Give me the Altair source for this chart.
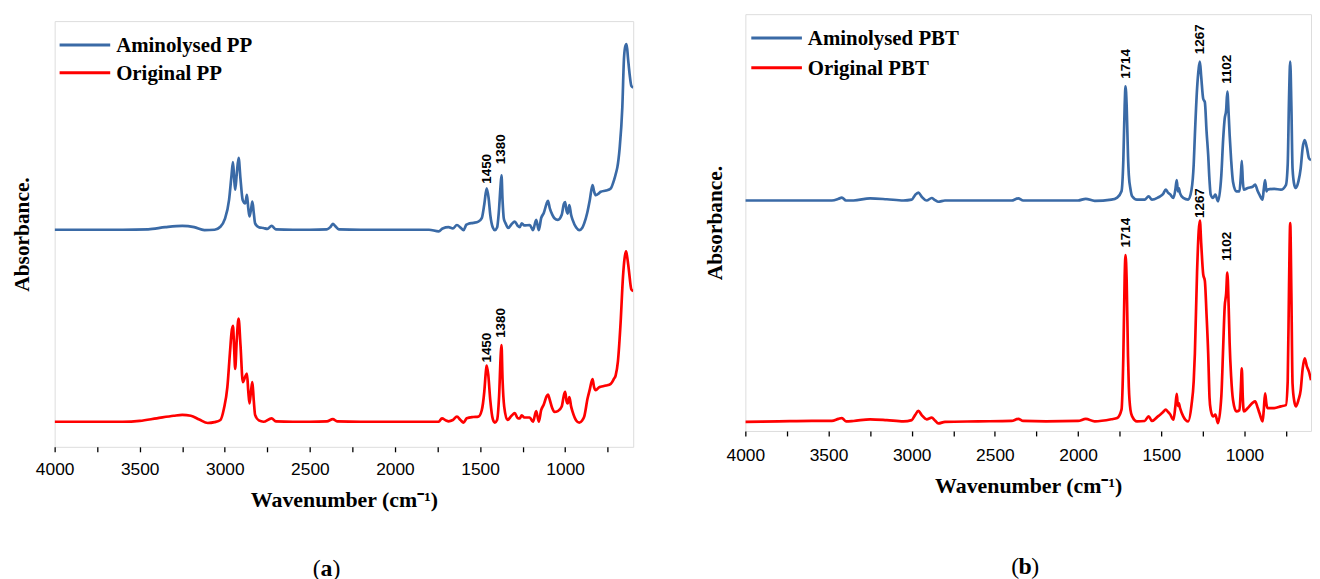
import altair as alt
import pandas as pd

# ---------------- (a) PP spectra ----------------
pp_amin_wn = [4000, 3800, 3600, 3450, 3350, 3250, 3180, 3120, 3060, 3026, 3000, 2975, 2960, 2952, 2945, 2939, 2930, 2919, 2908, 2895,
              2880, 2870, 2862, 2855, 2845, 2838, 2830, 2822, 2800, 2773, 2750, 2725, 2700, 2600, 2500, 2400, 2380, 2365, 2350, 2330,
              2200, 2000, 1800, 1743, 1720, 1685, 1660, 1636, 1615, 1597, 1580, 1568, 1540, 1510, 1490, 1475, 1461, 1450, 1440, 1425,
              1413, 1400, 1390, 1380, 1374, 1368, 1360, 1350, 1335, 1315, 1296, 1280, 1267, 1255, 1240, 1208, 1189, 1170, 1155, 1141,
              1125, 1110, 1101, 1090, 1075, 1063, 1043, 1020, 1008, 1000, 992, 985, 975, 965, 956, 935, 917, 900, 888, 870,
              855, 839, 830, 820, 800, 791, 760, 732, 713, 700, 693, 680, 664, 654, 645, 639, 630, 621, 611, 600]
pp_amin = [51.0, 51.0, 51.0, 51.1, 51.6, 51.9, 51.6, 50.9, 51.0, 51.7, 53.5, 58, 64, 66.9, 63, 60.4, 64, 67.9, 63, 58,
           57.2, 59.2, 56, 54.1, 56, 57.6, 55, 52.5, 51.6, 51.4, 51.2, 51.9, 51.1, 51.0, 51.0, 51.1, 51.6, 52.4, 51.8, 51.1,
           51.0, 51.0, 51.0, 50.6, 51.3, 51.6, 51.3, 52.1, 51.5, 50.9, 52.2, 52.4, 52.6, 52.9, 53.7, 57, 60.7, 58.5, 54.5, 51.5,
           50.9, 51.5, 55, 61, 63.8, 58, 53.5, 52.5, 51.4, 52.3, 52.9, 52.0, 51.6, 52.5, 52.0, 52.1, 50.9, 53.3, 50.9, 53.7,
           55, 57, 57.8, 56, 54.5, 53.7, 53.3, 54.5, 57, 57.5, 55.5, 54.8, 56.8, 54.5, 53.3, 51.5, 50.9, 51.4, 52.5, 55,
           58, 61.5, 60, 59.1, 59.6, 59.9, 60.2, 60.7, 62.6, 64.5, 65.7, 70, 79.7, 91.4, 94.3, 94.6, 91, 87.5, 84.8, 84.4]

pp_orig_wn = [4000, 3800, 3600, 3500, 3400, 3300, 3250, 3200, 3150, 3100, 3060, 3026, 3005, 2985, 2970, 2960, 2952, 2945, 2939, 2930,
              2919, 2908, 2894, 2880, 2870, 2862, 2855, 2845, 2838, 2830, 2822, 2800, 2773, 2725, 2700, 2600, 2500, 2400, 2365, 2340,
              2200, 2000, 1800, 1743, 1724, 1700, 1685, 1660, 1636, 1615, 1597, 1578, 1540, 1510, 1490, 1475, 1465, 1461, 1452, 1440,
              1425, 1413, 1400, 1388, 1378, 1374, 1368, 1358, 1339, 1315, 1296, 1280, 1267, 1255, 1240, 1208, 1189, 1170, 1155, 1141,
              1125, 1110, 1101, 1090, 1075, 1063, 1043, 1020, 1008, 1000, 992, 985, 975, 965, 956, 935, 917, 900, 888, 868,
              855, 839, 830, 820, 800, 791, 760, 732, 713, 703, 690, 674, 660, 650, 642, 635, 626, 611, 600]
pp_orig = [5.9, 5.9, 5.9, 6.1, 6.7, 7.3, 7.5, 7.3, 6.4, 5.6, 5.8, 6.3, 9.0, 14, 22, 27, 28.4, 23, 18.3, 25,
           30.1, 24, 15.2, 16.5, 17.2, 13, 10.2, 13.5, 15.2, 11, 7.5, 6.2, 5.9, 6.7, 6.0, 5.9, 5.9, 6.0, 6.5, 6.0,
           5.9, 5.9, 5.9, 5.9, 6.7, 6.2, 6.0, 6.3, 7.1, 6.3, 5.7, 6.7, 7.0, 7.1, 8.6, 13, 18, 19.1, 17, 11,
           6.5, 5.7, 6.3, 12, 22, 23.9, 16, 9.4, 6.3, 7.3, 7.9, 6.8, 6.7, 7.4, 6.9, 6.9, 5.9, 8.4, 5.9, 8.6,
           10, 11.8, 12.3, 11, 9, 8.2, 8.4, 9.5, 12, 12.9, 10.8, 10.2, 11.7, 9.5, 8.2, 6.2, 5.7, 6.2, 7.1, 11.4,
           13.5, 15.9, 14, 13.3, 14.0, 14.1, 14.4, 14.8, 16.0, 16.8, 20, 29.2, 40, 44.5, 45.9, 44.5, 41.7, 37.0, 36.6]

pp_series = ["Aminolysed PP", "Original PP"]
pp_ann_wn = [1461, 1374, 1461, 1374]
pp_ann_val = [61.8, 66.4, 19.8, 25.6]
pp_ann_text = ["1450", "1380", "1450", "1380"]

# ---------------- (b) PBT spectra ----------------
pbt_wn = [4000, 3800, 3600, 3480, 3440, 3420, 3395, 3350, 3250, 3150, 3050, 3000, 2980, 2960, 2940, 2910, 2880, 2860, 2840, 2800,
          2600, 2400, 2360, 2330, 2193, 2000, 1954, 1900, 1800, 1765, 1739, 1728, 1720, 1715, 1708, 1700, 1695, 1685, 1675, 1646,
          1600, 1576, 1556, 1520, 1507, 1490, 1473, 1460, 1447, 1427, 1415, 1407, 1400, 1395, 1387, 1368, 1338, 1318, 1305, 1298,
          1285, 1275, 1268, 1260, 1248, 1238, 1228, 1218, 1210, 1203, 1189, 1175, 1159, 1139, 1128, 1119, 1110, 1103, 1095, 1089,
          1080, 1069, 1049, 1030, 1022, 1016, 1010, 1004, 980, 950, 936, 920, 910, 891, 884, 876, 868, 862, 821, 781,
          751, 740, 732, 725, 718, 711, 700, 691, 675, 662, 650, 638, 625, 612, 600]
pbt_amin = [55.3, 55.3, 55.3, 55.3, 55.7, 56.0, 55.3, 55.3, 55.8, 55.6, 55.3, 55.5, 56.6, 57.2, 56.2, 55.3, 55.9, 55.4, 55.0, 55.3,
            55.3, 55.3, 55.8, 55.3, 55.3, 55.3, 55.7, 55.2, 55.5, 56.0, 57.5, 65, 78, 82.7, 78, 66, 61.4, 58, 56.3, 55.5,
            55.5, 56.3, 55.5, 56, 56.3, 56.8, 57.9, 57.2, 56.8, 55.9, 58, 60.2, 57.5, 58.3, 57.0, 55.9, 55.5, 57.9, 64, 71.0,
            82, 87, 88.6, 85, 79.7, 78.9, 72, 66.2, 60, 56.7, 55.9, 56.7, 55.1, 61.4, 70, 74.9, 77, 81.4, 76, 71.0,
            65, 59.8, 57.5, 57.5, 61, 64.8, 60, 57.9, 58.3, 58.6, 59.1, 57.5, 56.7, 55.5, 58, 60.2, 57.5, 57.9, 58.1, 57.9,
            59.0, 64, 80, 88.6, 78, 63.0, 59, 58.3, 60, 63.0, 68, 69.8, 68, 65.4, 65.0]
pbt_orig = [2.2, 2.3, 2.4, 2.4, 2.9, 3.1, 2.3, 2.4, 2.8, 2.6, 2.3, 2.6, 3.8, 4.8, 3.8, 2.8, 3.2, 2.5, 1.8, 2.2,
            2.3, 2.4, 2.9, 2.4, 2.3, 2.4, 2.9, 2.3, 2.8, 3.1, 5.1, 18, 37, 42.2, 36, 18, 10.6, 5, 3.5, 2.3,
            2.4, 3.5, 2.4, 3.5, 3.9, 4.5, 5.1, 4.6, 4.0, 2.7, 6, 8.9, 6.0, 6.7, 5.5, 3.5, 2.3, 6.3, 12, 18.6,
            38, 48, 50.5, 45, 37.6, 36.0, 28, 18.6, 8, 5.1, 3.5, 3.9, 1.9, 8.3, 20, 29.7, 33, 38.0, 30, 21.0,
            13, 7.5, 4.7, 5, 10, 15.0, 8, 4.7, 5.5, 6.8, 7.1, 5.5, 4.3, 2.3, 5, 9.0, 6.5, 5.5, 5.5, 5.9,
            6.2, 12, 35, 49.9, 33, 11.4, 7, 5.9, 7.5, 9.8, 15, 17.4, 15.5, 14.2, 12.2]

pbt_series = ["Aminolysed PBT", "Original PBT"]
pbt_ann_wn = [1714, 1267, 1102, 1714, 1267, 1102]
pbt_ann_val = [84.5, 90.4, 83.3, 44.0, 51.1, 40.8]
pbt_ann_text = ["1714", "1267", "1102", "1714", "1267", "1102"]

tick_values = list(range(4000, 700, -250))
colors = ["#3a6aa6", "#ff0000"]

SERIF = "Liberation Serif"
SANS = "Liberation Sans"


def panel(wn_a, val_a, wn_b, val_b, names, ann_wn, ann_val, ann_text, letter,
          width, height, label_pad, ytitle_pad, legend_gap, legend_x, caption_x, caption_y):
    df = pd.concat([
        pd.DataFrame({"wn": wn_a, "absorbance": val_a, "series": names[0]}),
        pd.DataFrame({"wn": wn_b, "absorbance": val_b, "series": names[1]}),
    ])
    ann = pd.DataFrame({"wn": ann_wn, "absorbance": ann_val, "label": ann_text})

    x_enc = alt.X("wn:Q",
                  scale=alt.Scale(domain=[600, 4000], reverse=True, nice=False, zero=False),
                  axis=alt.Axis(values=tick_values,
                                labelExpr="datum.value % 500 == 0 ? format(datum.value, 'd') : ''",
                                title="Wavenumber (cm⁻¹)", grid=False, domain=False,
                                labelFlush=False, labelOverlap=False, labelPadding=label_pad,
                                tickSize=5, tickWidth=1.3, tickColor="black",
                                labelFont=SANS, labelFontSize=17.5, labelColor="black",
                                titleFont=SERIF, titleFontSize=22, titleFontWeight="bold",
                                titleColor="black", titlePadding=12))
    y_enc = alt.Y("absorbance:Q",
                  scale=alt.Scale(domain=[0, 100], nice=False, zero=False),
                  axis=alt.Axis(title="Absorbance.", labels=False, ticks=False, domain=False,
                                grid=False, titleFont=SERIF, titleFontSize=21.5,
                                titleFontWeight="bold", titleColor="black",
                                titlePadding=ytitle_pad))

    lines = alt.Chart(df).mark_line(strokeWidth=2.7, interpolate="monotone", clip=True).encode(
        x=x_enc, y=y_enc,
        color=alt.Color("series:N", scale=alt.Scale(domain=names, range=colors), legend=None),
    )
    labels = alt.Chart(ann).mark_text(angle=270, align="left", baseline="middle",
                                      font=SANS, fontSize=13.5, fontWeight="bold",
                                      color="black").encode(
        x=x_enc, y=y_enc, text="label:N")

    layers = [lines, labels]
    for i, name in enumerate(names):
        row_y = 24 + i * legend_gap
        one = pd.DataFrame({"label": [name]})
        layers.append(alt.Chart(one).mark_rule(color=colors[i], strokeWidth=3).encode(
            x=alt.value(legend_x), x2=alt.value(legend_x + 51), y=alt.value(row_y)))
        layers.append(alt.Chart(one).mark_text(align="left", baseline="middle", font=SERIF,
                                               fontSize=21, fontWeight="bold",
                                               color="black").encode(
            x=alt.value(legend_x + 57), y=alt.value(row_y + 1), text="label:N"))

    # caption "(x)" with a bold letter
    cap = pd.DataFrame({"open": ["("], "letter": [letter], "close": [")"]})
    layers.append(alt.Chart(cap).mark_text(align="right", baseline="middle", font=SERIF,
                                           fontSize=24, color="black").encode(
        x=alt.value(caption_x - 6), y=alt.value(caption_y), text="open:N"))
    layers.append(alt.Chart(cap).mark_text(align="center", baseline="middle", font=SERIF,
                                           fontSize=24, fontWeight="bold", color="black").encode(
        x=alt.value(caption_x), y=alt.value(caption_y), text="letter:N"))
    layers.append(alt.Chart(cap).mark_text(align="left", baseline="middle", font=SERIF,
                                           fontSize=24, color="black").encode(
        x=alt.value(caption_x + 6), y=alt.value(caption_y), text="close:N"))

    return alt.layer(*layers).properties(width=width, height=height)


left = panel(pp_amin_wn, pp_amin, pp_orig_wn, pp_orig, pp_series,
             pp_ann_wn, pp_ann_val, pp_ann_text, "a",
             583, 429, 8.5, 21, 28, 5, 274, 552)
right = panel(pbt_wn, pbt_amin, pbt_wn, pbt_orig, pbt_series,
              pbt_ann_wn, pbt_ann_val, pbt_ann_text, "b",
              570, 420, 10.5, 19, 30, 6, 282, 557)

# small invisible spacer so the left frame sits 5px lower than the right one
spacer = alt.Chart(pd.DataFrame({"s": [0]})).mark_point(opacity=0).encode(
    x=alt.value(0), y=alt.value(0)
).properties(width=1, height=5, view=alt.ViewBackground(stroke="transparent"))

left_col = alt.vconcat(spacer, left, spacing=0)

chart = alt.hconcat(left_col, right, spacing=70).resolve_scale(color="independent").properties(
    padding={"left": 3, "top": 0, "right": 0, "bottom": 0}
).configure_view(stroke="black", strokeWidth=1.5).configure(background="white")

chart.save("out.html", embed_options={"renderer": "svg", "actions": False})
